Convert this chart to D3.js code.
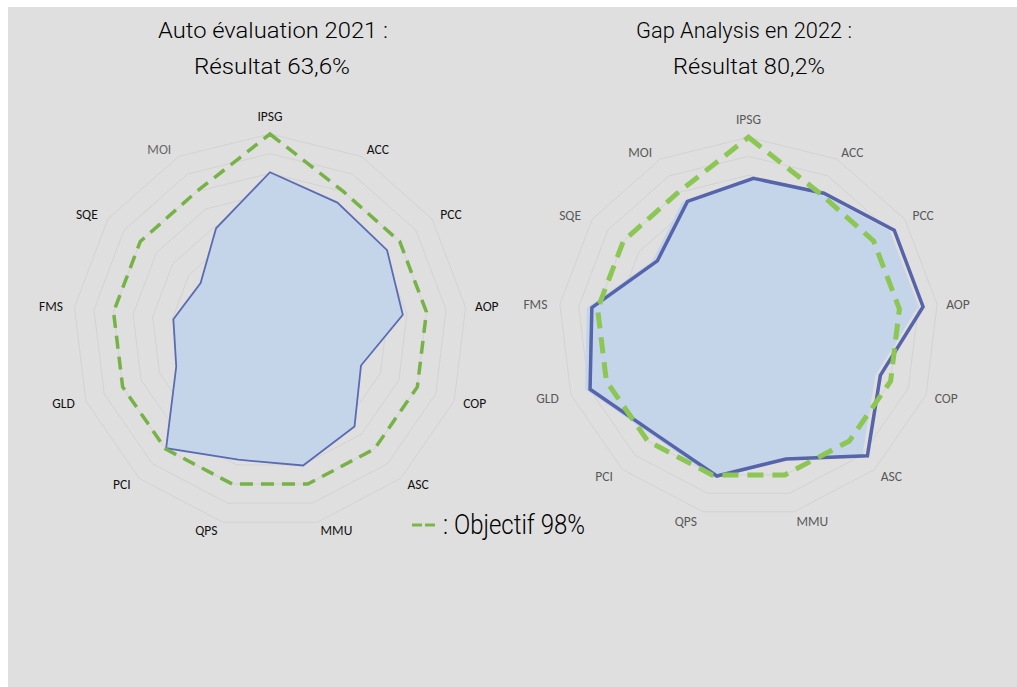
<!DOCTYPE html>
<html>
<head>
<meta charset="utf-8">
<script src="https://cdn.jsdelivr.net/npm/d3@7"></script>
<style>
  html, body { margin: 0; padding: 0; background: #ffffff; }
  svg { display: block; }
  .title { font-family: Roboto, "DejaVu Sans", sans-serif; font-weight: 300; fill: #000; }
  .axlab { font-family: Carlito, Lato, "Open Sans", sans-serif; font-size: 13.5px; }
</style>
</head>
<body>
<script>
// ---------- data ----------
const categories = ["IPSG","ACC","PCC","AOP","COP","ASC","MMU","QPS","PCI","GLD","FMS","SQE","MOI"];
const auto2021   = [0.806,0.736,0.722,0.679,0.494,0.647,0.703,0.673,0.795,0.509,0.494,0.428,0.589];
const gap2022    = [0.784,0.797,0.900,0.899,0.714,0.904,0.714,0.806,0.762,0.920,0.857,0.615,0.748];
const objective  = [1.0,0.8,0.8,0.8,0.8,0.8,0.8,0.8,0.8,0.8,0.8,0.8,0.8];
const ringTicks  = [0.1,0.2,0.3,0.4,0.5,0.6,0.7,0.8,0.9,1.0];
const titles2021 = ["Auto évaluation 2021 :", "Résultat 63,6%"];
const titles2022 = ["Gap Analysis en 2022 :", "Résultat 80,2%"];
const legendText = ": Objectif 98%";

// ---------- setup ----------
const W = 1017, H = 687;
const svg = d3.select("body").append("svg").attr("width", W).attr("height", H);
svg.append("rect").attr("x", 8).attr("y", 7).attr("width", W - 8).attr("height", H - 7).attr("fill", "#dfdfdf");

const n = categories.length;
const angle = d3.scaleLinear().domain([0, n]).range([0, 2 * Math.PI]);

function radar(cfg) {
  const g = svg.append("g").attr("transform", `translate(${cfg.cx},${cfg.cy})`);
  const r = d3.scaleLinear().domain([0, 1]).range([0, cfg.R]);
  const line = d3.lineRadial()
    .angle((d, i) => angle(i))
    .radius(d => r(d))
    .curve(d3.curveLinearClosed);

  // grid rings
  g.selectAll("path.ring").data(ringTicks).join("path")
    .attr("class", "ring")
    .attr("d", t => line(categories.map(() => t)))
    .attr("fill", "none")
    .attr("stroke", "#d3d3d3")
    .attr("stroke-width", 1);

  // filled series
  g.append("path")
    .attr("d", line(cfg.fillValues))
    .attr("fill", "#c4d5ea")
    .attr("stroke", cfg.fillStroke || "none")
    .attr("stroke-width", cfg.fillStrokeWidth || 0)
    .attr("stroke-linejoin", "miter");

  // outline series (drawn separately in the 2022 chart)
  if (cfg.lineValues) {
    g.append("path")
      .attr("transform", `translate(${cfg.lineOffset || 0},0)`)
      .attr("d", line(cfg.lineValues))
      .attr("fill", "none")
      .attr("stroke", "#5564ab")
      .attr("stroke-width", 3.5)
      .attr("stroke-linejoin", "miter");
  }

  // objective
  g.append("path")
    .attr("d", line(objective))
    .attr("fill", "none")
    .attr("stroke", cfg.objColor)
    .attr("stroke-width", cfg.objWidth)
    .attr("stroke-dasharray", cfg.objDash)
    .attr("stroke-linejoin", "miter");

  // category labels
  const L = cfg.R + cfg.labGap;
  g.selectAll("text.axlab").data(categories).join("text")
    .attr("class", "axlab")
    .each(function(d, i) {
      const a = angle(i), s = Math.sin(a), c = Math.cos(a);
      const t = d3.select(this);
      if (Math.abs(s) < 1e-6) {
        t.attr("x", 0).attr("y", -L * c + cfg.labC - 10).attr("text-anchor", "middle");
      } else if (s > 0) {
        t.attr("x", L * s + cfg.labRightPad).attr("y", -L * c + cfg.labC).attr("text-anchor", "start");
      } else {
        t.attr("x", L * s - cfg.labLeftPad).attr("y", -L * c + cfg.labC).attr("text-anchor", "end");
      }
    })
    .attr("fill", (d, i) => cfg.labColor(d, i))
    .text(d => d);

  // titles
  cfg.titles.forEach((t, k) => {
    svg.append("text").attr("class", "title")
      .attr("x", cfg.titleX[k]).attr("y", 38 + k * 36.3)
      .attr("text-anchor", "middle")
      .attr("font-size", 21.5)
      .attr("textLength", cfg.titleW[k])
      .attr("lengthAdjust", "spacingAndGlyphs")
      .text(t);
  });
}

radar({
  cx: 270, cy: 331, R: 197, labGap: 8, labC: 4.7, labRightPad: 1.5, labLeftPad: 3.5,
  fillValues: auto2021, fillStroke: "#5b6bb3", fillStrokeWidth: 1.8,
  objColor: "#77b246", objWidth: 3.5, objDash: "13,8",
  labColor: (d) => d === "MOI" ? "#666666" : "#111111",
  titles: titles2021, titleX: [273, 272], titleW: [230, 156]
});

radar({
  cx: 748.5, cy: 327.3, R: 190, labGap: 8.6, labC: 5.5, labRightPad: 0.5, labLeftPad: 4,
  fillValues: gap2022, lineValues: gap2022, lineOffset: 5,
  objColor: "#8cc653", objWidth: 5, objDash: "16,9",
  labColor: () => "#595959",
  titles: titles2022, titleX: [744, 749], titleW: [216, 152]
});

// legend
const lg = svg.append("g");
lg.selectAll("line").data([0, 1]).join("line")
  .attr("x1", d => 412 + d * 13).attr("x2", d => 422 + d * 13)
  .attr("y1", 525).attr("y2", 525)
  .attr("stroke", "#7ab648").attr("stroke-width", 3);
lg.append("text").attr("class", "title")
  .attr("x", 443).attr("y", 533.5)
  .attr("font-size", 27)
  .attr("textLength", 142)
  .attr("lengthAdjust", "spacingAndGlyphs")
  .text(legendText);
</script>
</body>
</html>
